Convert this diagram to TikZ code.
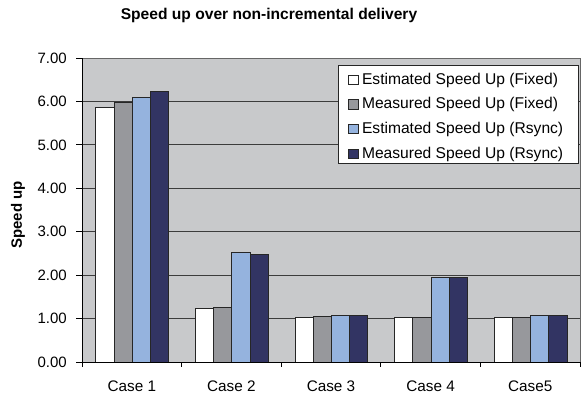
\documentclass[tikz,border=0pt]{standalone}
\usepackage{fontspec}
\setmainfont{Liberation Sans}
\usepackage{tikz}
\usetikzlibrary{positioning}
\definecolor{plotgray}{RGB}{200,201,203}
\definecolor{bargray}{RGB}{151,152,156}
\definecolor{barblue}{RGB}{149,179,222}
\definecolor{barnavy}{RGB}{50,52,99}
\definecolor{gridline}{RGB}{60,60,60}

\begin{document}
\begin{tikzpicture}[x=1pt, y=1pt,
  bar/.style={draw=black!85, line width=0.8pt},
  ticklab/.style={font=\fontsize{15}{15}\selectfont, anchor=east, inner sep=0pt},
  cat/.style={font=\fontsize{15.3}{15}\selectfont, inner sep=0pt},
  legtext/.style={font=\fontsize{15.6}{15}\selectfont, inner sep=0pt},
  legkey/.style={draw=black!85, line width=0.6pt, minimum size=9.5pt, inner sep=0pt}
]
\useasboundingbox (0,0) rectangle (585,400);
% plot area
\fill[plotgray] (82,38) rectangle (580,342);
\draw[gray!80!black] (82,342) -- (580,342) -- (580,38);
% grid lines and y ticks
\foreach \v in {0,...,7} {
  \pgfmathsetmacro{\yy}{38+43.43*\v}
  \ifnum\v>0 \ifnum\v<7 \draw[gridline, line width=0.8pt] (82,\yy) -- (580,\yy); \fi\fi
  \draw[line width=0.8pt] (76,\yy) -- (82,\yy);
  \node[ticklab] (y\v) at (67,\yy) {\v.00};
}
% bars
\foreach \i/\va/\vb/\vc/\vd in {0/5.87/5.97/6.10/6.24, 1/1.24/1.26/2.53/2.47, 2/1.03/1.06/1.07/1.07, 3/1.03/1.03/1.94/1.94, 4/1.03/1.03/1.08/1.08} {
  \pgfmathsetmacro{\xx}{95.7+99.6*\i}
  \foreach \col/\v [count=\j from 0] in {white/\va, bargray/\vb, barblue/\vc, barnavy/\vd} {
    \draw[bar, fill=\col] ({\xx+18.2*\j},38) rectangle ++(18.2,{43.43*\v});
  }
}
% axes
\draw[line width=0.8pt] (82,342) -- (82,38) -- (580,38);
\foreach \k in {0,...,5}
  \draw[line width=0.8pt] ({82+99.6*\k},38) -- ++(0,-5);
\foreach \i/\t in {0/Case 1, 1/Case 2, 2/Case 3, 3/Case 4, 4/Case5}
  \node[cat] (c\i) at ({131.8+99.6*\i},13.3) {\t};
% titles
\node[font=\bfseries\fontsize{15.6}{16}\selectfont] (title) at (269,385) {Speed up over non-incremental delivery};
\node[font=\bfseries\fontsize{15}{15}\selectfont, rotate=90] (ylab) at (18,185) {Speed up};
% legend
\node[draw=black!85, fill=white, line width=0.8pt, minimum width=240pt, minimum height=98.6pt, anchor=north west, inner sep=0pt] (legend) at (338,335.3) {};
\foreach \j/\col/\t/\yy in {1/white/Estimated Speed Up (Fixed)/320, 2/bargray/Measured Speed Up (Fixed)/295.7, 3/barblue/Estimated Speed Up (Rsync)/271, 4/barnavy/Measured Speed Up (Rsync)/246} {
  \node[legkey, fill=\col] (key\j) at (353.3,\yy) {};
  \node[legtext, right=3.5pt of key\j] (lab\j) {\t};
}
\end{tikzpicture}
\end{document}
